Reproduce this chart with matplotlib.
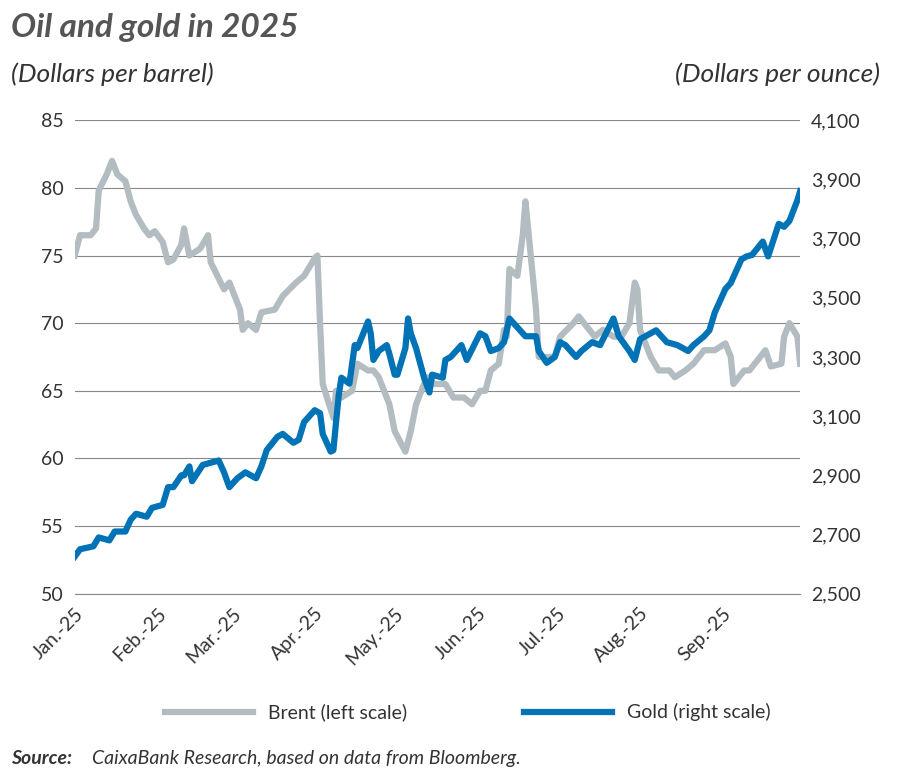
import numpy as np
import pandas as pd
import matplotlib
matplotlib.use("Agg")
import matplotlib.pyplot as plt
import matplotlib.dates as mdates

plt.rcParams['font.family'] = ['Lato', 'DejaVu Sans']

brent_dates = ["01-01","01-03","01-07","01-09","01-10","01-13","01-15","01-17","01-20","01-22","01-24","01-27",
               "01-29","01-31","02-03","02-05","02-07","02-10","02-11","02-13","02-17","02-20","02-21","02-26",
               "02-28","03-04","03-05","03-07","03-10","03-12","03-17","03-20","03-25","03-28","04-01","04-02",
               "04-03","04-04","04-08","04-09","04-11","04-15","04-17","04-21","04-23","04-25","04-29","05-01",
               "05-05","05-07","05-09","05-13","05-16","05-20","05-23","05-27","05-30","06-02","06-04","06-06",
               "06-09","06-11","06-12","06-13","06-16","06-18","06-19","06-20","06-23","06-24","06-26","06-30",
               "07-02","07-07","07-09","07-11","07-15","07-18","07-22","07-25","07-28","07-30","07-31","08-01",
               "08-05","08-08","08-12","08-14","08-18","08-21","08-25","08-28","08-29","09-02","09-04","09-05",
               "09-09","09-11","09-15","09-17","09-19","09-23","09-24","09-26","09-29","09-30"]
brent = [75, 76.5, 76.5, 77, 79.8, 81, 82, 81, 80.5, 79, 78, 77,
         76.5, 76.8, 76, 74.5, 74.7, 75.8, 77, 75, 75.5, 76.5, 74.5, 72.5,
         73, 71, 69.5, 70, 69.5, 70.8, 71, 72, 73, 73.5, 74.8, 75,
         70, 65.5, 63, 65, 64.5, 65, 67, 66.5, 66.5, 66, 64, 62,
         60.5, 62, 64, 66, 65.5, 65.5, 64.5, 64.5, 64, 65, 65, 66.5,
         67, 69.5, 69, 74, 73.5, 76.5, 79, 77, 71, 67.5, 67.5, 67.5,
         69, 70, 70.5, 70, 69, 69.5, 69, 69, 70, 73, 72.5, 69.5,
         67.5, 66.5, 66.5, 66, 66.5, 67, 68, 68, 68, 68.5, 67.5, 65.5,
         66.5, 66.5, 67.5, 68, 66.8, 67, 69, 70, 69, 67]

gold_dates = ["01-01","01-03","01-08","01-10","01-14","01-16","01-20","01-22","01-24","01-28","01-30","02-03",
              "02-05","02-07","02-10","02-11","02-13","02-14","02-18","02-20","02-24","02-26","02-28","03-03",
              "03-06","03-10","03-12","03-14","03-18","03-20","03-24","03-26","03-28","04-01","04-03","04-04",
              "04-07","04-08","04-09","04-10","04-11","04-14","04-16","04-17","04-21","04-22","04-23","04-25",
              "04-28","04-29","05-01","05-02","05-05","05-06","05-07","05-09","05-12","05-14","05-15","05-19",
              "05-20","05-22","05-26","05-28","06-02","06-04","06-06","06-09","06-11","06-13","06-17","06-19",
              "06-23","06-24","06-27","06-30","07-02","07-04","07-08","07-10","07-14","07-17","07-22","07-24",
              "07-28","07-30","08-01","08-05","08-07","08-11","08-15","08-19","08-21","08-25","08-27","08-29",
              "09-02","09-04","09-08","09-10","09-12","09-16","09-18","09-22","09-24","09-26","09-29","09-30"]
gold = [2625, 2650, 2660, 2690, 2680, 2710, 2710, 2750, 2770, 2760, 2790, 2800,
        2860, 2860, 2900, 2900, 2930, 2880, 2935, 2940, 2950, 2910, 2860, 2890,
        2910, 2890, 2930, 2985, 3030, 3040, 3010, 3020, 3080, 3120, 3110, 3040,
        2980, 2985, 3080, 3170, 3230, 3210, 3340, 3330, 3420, 3380, 3290, 3320,
        3340, 3310, 3240, 3240, 3330, 3430, 3380, 3330, 3230, 3180, 3240, 3230,
        3290, 3300, 3340, 3290, 3380, 3370, 3320, 3330, 3350, 3430, 3390, 3370,
        3370, 3320, 3280, 3300, 3350, 3340, 3300, 3320, 3350, 3340, 3430, 3370,
        3320, 3290, 3360, 3380, 3390, 3350, 3340, 3320, 3340, 3370, 3390, 3450,
        3530, 3550, 3630, 3640, 3645, 3690, 3640, 3750, 3740, 3760, 3830, 3860]

month_labels = ["Jan.-25", "Feb.-25", "Mar.-25", "Apr.-25", "May.-25", "Jun.-25", "Jul.-25", "Aug.-25", "Sep.-25"]

bx = pd.to_datetime(["2025-" + d for d in brent_dates])
gx = pd.to_datetime(["2025-" + d for d in gold_dates])

grey_c = "#b2bcc1"
blue_c = "#0073b7"
text_c = "#333333"

fig = plt.figure(figsize=(9, 7.76), dpi=100)
ax = fig.add_axes([0.083, 0.235, 0.806, 0.61])
ax2 = ax.twinx()

lb, = ax.plot(bx, brent, color=grey_c, lw=4.5, solid_joinstyle='round')
lg, = ax2.plot(gx, gold, color=blue_c, lw=4.5, solid_joinstyle='round')

ax.set_ylim(50, 85)
ax.set_yticks(range(50, 86, 5))
ax2.set_ylim(2500, 4100)
ax2.set_yticks(range(2500, 4101, 200))
ax2.set_yticklabels([f"{v:,}" for v in range(2500, 4101, 200)])
ax.set_xlim(pd.Timestamp("2025-01-01"), pd.Timestamp("2025-09-30"))
ax.set_xticks(pd.date_range("2025-01-01", periods=9, freq="MS"))
ax.set_xticklabels(month_labels, rotation=45, ha="right", rotation_mode="anchor")

ax.grid(axis='y', color="#888888", lw=0.8)
for a in (ax, ax2):
    for s in a.spines.values():
        s.set_visible(False)
    a.tick_params(length=0, labelsize=14, colors=text_c, pad=8)
ax.spines['bottom'].set_visible(True)
ax.spines['bottom'].set_color("#888888")

fig.text(0.012, 0.965, "Oil and gold in 2025", fontsize=24, fontweight='bold', style='italic', color="#555555", va='center')
fig.text(0.012, 0.905, "(Dollars per barrel)", fontsize=19, style='italic', color=text_c, va='center')
fig.text(0.978, 0.905, "(Dollars per ounce)", fontsize=19, style='italic', color=text_c, va='center', ha='right')

fig.legend([lb, lg], ["Brent (left scale)", "Gold (right scale)"], loc='center', bbox_to_anchor=(0.52, 0.082),
           ncol=2, frameon=False, fontsize=14, handlelength=4.5, columnspacing=6, labelcolor=text_c)

fig.text(0.012, 0.022, "Source:", fontsize=14, fontweight='bold', style='italic', color=text_c, va='center')
fig.text(0.102, 0.022, "CaixaBank Research, based on data from Bloomberg.", fontsize=14, style='italic',
         color=text_c, va='center')

fig.savefig("out.png", dpi=100)
